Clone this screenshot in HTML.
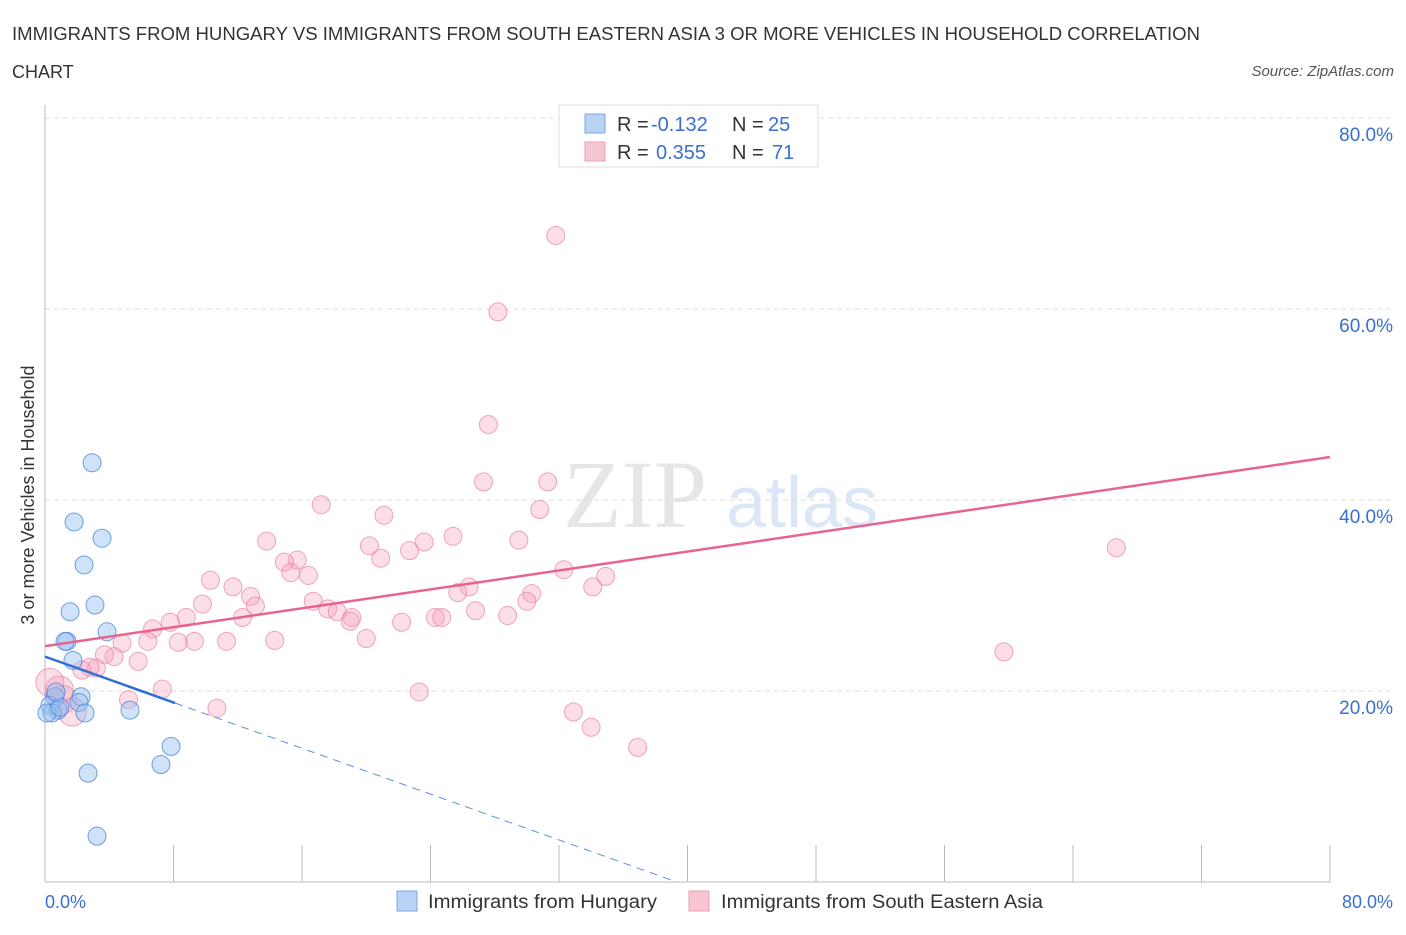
<!DOCTYPE html>
<html><head><meta charset="utf-8"><style>
body{margin:0;background:#fff;font-family:"Liberation Sans",sans-serif;}
</style></head><body>
<svg width="1406" height="930" xmlns="http://www.w3.org/2000/svg" style="font-family:'Liberation Sans',sans-serif">
<text x="12" y="40" font-size="18" fill="#333" textLength="1188" lengthAdjust="spacingAndGlyphs">IMMIGRANTS FROM HUNGARY VS IMMIGRANTS FROM SOUTH EASTERN ASIA 3 OR MORE VEHICLES IN HOUSEHOLD CORRELATION</text>
<text x="12" y="78" font-size="18" fill="#333">CHART</text>
<text x="1394" y="76" font-size="15" fill="#555" font-style="italic" text-anchor="end">Source: ZipAtlas.com</text>
<g>
<text x="635" y="527" font-size="96" fill="#e6e6e6" font-family="Liberation Serif,serif" text-anchor="middle">ZIP</text>
<text x="802" y="527" font-size="72" fill="#dbe7f6" text-anchor="middle">atlas</text>
</g>
<g id="grid"></g>
<g id="axes"></g>
<g id="marks"></g>
<g id="lines"></g>
<text x="34" y="495" font-size="18" fill="#333" text-anchor="middle" transform="rotate(-90 34 495)">3 or more Vehicles in Household</text>
<text x="45" y="908" font-size="18" fill="#3a6fd0">0.0%</text>
<text x="1393" y="908" font-size="18" fill="#3a6fd0" text-anchor="end">80.0%</text>
<g>
<rect x="559" y="105" width="259" height="62" fill="#fff" stroke="#ddd"/>
<rect x="585" y="114" width="20" height="19" fill="#b8d3f5" stroke="#7aaae6"/>
<rect x="585" y="142" width="20" height="19" fill="#f8c6d3" stroke="#eba0b5"/>
<text x="617" y="131" font-size="20" fill="#333">R = </text><text x="651" y="131" font-size="20" fill="#3a6fd0">-0.132</text>
<text x="732" y="131" font-size="20" fill="#333">N = </text><text x="768" y="131" font-size="20" fill="#3a6fd0">25</text>
<text x="617" y="159" font-size="20" fill="#333">R = </text><text x="656" y="159" font-size="20" fill="#3a6fd0">0.355</text>
<text x="732" y="159" font-size="20" fill="#333">N = </text><text x="772" y="159" font-size="20" fill="#3a6fd0">71</text>
</g>
<g>
<rect x="397" y="891" width="20" height="20" fill="#b8d3f5" stroke="#7aaae6"/>
<text x="428" y="908" font-size="19" fill="#333" textLength="229" lengthAdjust="spacingAndGlyphs">Immigrants from Hungary</text>
<rect x="689" y="891" width="20" height="20" fill="#f8c6d3" stroke="#eba0b5"/>
<text x="721" y="908" font-size="19" fill="#333" textLength="322" lengthAdjust="spacingAndGlyphs">Immigrants from South Eastern Asia</text>
</g>
</svg>
<script>
const yTicks=[20,40,60,80];
const yTickLabels=["20.0%","40.0%","60.0%","80.0%"];
const xTicks=[0,8,16,24,32,40,48,56,64,72,80];
const hungaryX=[2.93,1.81,3.55,2.43,3.11,1.56,1.37,1.25,3.86,1.74,2.24,2.12,0.62,0.31,0.81,0.44,0.12,2.49,5.29,7.85,7.22,2.68,3.24,0.93,0.68];
const hungaryY=[43.9,37.7,36.0,33.2,29.0,28.3,25.2,25.2,26.2,23.2,19.4,18.8,19.4,18.5,18.0,17.7,17.7,17.7,18.0,14.2,12.3,11.4,4.8,18.3,19.9];
const seaX=[31.8,28.2,27.6,27.3,31.3,17.2,21.1,30.8,13.8,25.4,29.5,20.2,23.6,22.7,20.9,15.7,14.9,15.3,16.4,32.3,34.9,10.3,11.7,26.4,34.1,25.7,12.8,30.3,9.8,30.0,16.7,13.1,8.8,17.6,26.8,19.1,28.8,18.2,12.3,24.3,24.7,22.2,19.0,7.8,6.7,20.0,14.3,11.3,9.3,8.3,6.4,4.8,4.3,5.8,3.7,3.2,2.3,2.8,66.7,59.7,7.3,5.2,23.3,10.7,32.9,34.0,36.9,0.9,1.1,1.7,0.3];
const seaY=[67.7,59.7,47.9,41.9,41.9,39.5,38.4,39.0,35.7,36.2,35.8,35.2,35.6,34.7,33.9,33.7,33.5,32.4,32.1,32.7,32.0,31.6,30.9,30.9,30.9,30.3,29.9,30.2,29.1,29.4,29.4,28.9,27.7,28.6,28.4,27.7,27.9,28.3,27.7,27.7,27.7,27.2,27.3,27.2,26.5,25.5,25.3,25.2,25.2,25.1,25.2,25.0,23.6,23.1,23.8,22.4,22.2,22.5,35.0,24.1,20.2,19.1,19.9,18.2,17.8,16.2,14.1,20.1,19.1,17.8,20.9];
const seaTrend=[24.7,44.5];
const hungaryTrend=[23.6,-0.6];
const NS="http://www.w3.org/2000/svg";
const X=v=>45+v*(1285/80);
const Y=v=>882-v*(764/80);
function mk(tag,attrs,parent){const e=document.createElementNS(NS,tag);for(const k in attrs)e.setAttribute(k,attrs[k]);document.getElementById(parent).appendChild(e);return e;}
yTicks.forEach((t,i)=>{
 const g=mk('line',{x1:45,x2:1393,y1:Y(t),y2:Y(t),stroke:'#ddd','stroke-dasharray':'5,4'},'grid');
 
 
 const l=mk('text',{x:1393,y:Y(t)+23,'font-size':19,fill:'#3a6fd0','text-anchor':'end'},'grid');
 l.textContent=yTickLabels[i];
 
 
});
const ax=mk('line',{x1:45,x2:1330,y1:882,y2:882,stroke:'#bbb'},'axes');


const ay=mk('line',{x1:45,x2:45,y1:105,y2:882,stroke:'#bbb'},'axes');


xTicks.forEach(t=>{
 const e=mk('line',{x1:X(t),x2:X(t),y1:845,y2:882,stroke:'#bbb'},'axes');
 
 
});
seaX.forEach((v,i)=>{
 const big=i>=67;
 const c=mk('circle',{cx:X(v),cy:Y(seaY[i]),r:big?14:9,fill:'rgba(245,160,185,0.35)',stroke:'rgba(232,130,160,0.7)','stroke-width':1},'marks');
 
 
});
hungaryX.forEach((v,i)=>{
 const c=mk('circle',{cx:X(v),cy:Y(hungaryY[i]),r:9,fill:'rgba(150,190,240,0.45)',stroke:'rgba(70,130,220,0.75)','stroke-width':1},'marks');
 
 
});
const pl=mk('line',{x1:X(0),y1:Y(seaTrend[0]),x2:X(80),y2:Y(seaTrend[1]),stroke:'#e8648f','stroke-width':2.5},'lines');


const hb=Y(hungaryTrend[0]);
const hs=mk('line',{x1:X(0),y1:hb,x2:X(8.1),y2:Y(hungaryTrend[0]+hungaryTrend[1]*8.1),stroke:'#2f6fd6','stroke-width':2.5},'lines');


const xEnd=-hungaryTrend[0]/hungaryTrend[1];
const hd=mk('line',{x1:X(8.1),y1:Y(hungaryTrend[0]+hungaryTrend[1]*8.1),x2:X(xEnd),y2:Y(0),stroke:'#5a8fe0','stroke-width':1,'stroke-dasharray':'8,6'},'lines');


</script>
</body></html>
